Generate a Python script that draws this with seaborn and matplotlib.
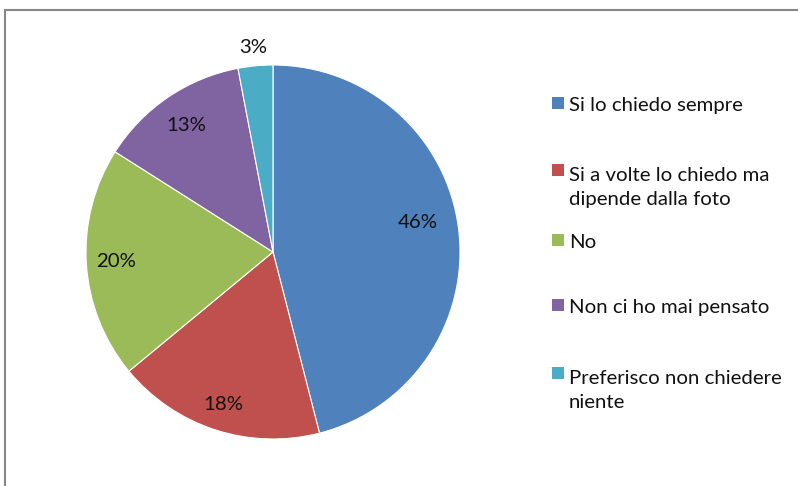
import matplotlib
matplotlib.use("Agg")
import matplotlib.pyplot as plt
import seaborn as sns
import numpy as np
from matplotlib.patches import Rectangle

sns.set_theme(style="white")
plt.rcParams['font.family'] = ['Lato', 'DejaVu Sans']

categories = ["Si lo chiedo sempre",
              "Si a volte lo chiedo ma\ndipende dalla foto",
              "No",
              "Non ci ho mai pensato",
              "Preferisco non chiedere\nniente"]
values = [46, 18, 20, 13, 3]
colors = ["#4F81BD", "#C0504D", "#9BBB59", "#8064A2", "#4BACC6"]

W, H = 798, 486
fig = plt.figure(figsize=(W / 100, H / 100), dpi=100)
fig.patch.set_facecolor("white")

# frame
frame = Rectangle((5 / W, -0.1), 1.2, (H - 10) / H + 0.1, transform=fig.transFigure,
                  fill=False, edgecolor="#868686", linewidth=1.5)
fig.add_artist(frame)

cx, cy, r = 273, H - 252, 187
ax = fig.add_axes([(cx - r) / W, (cy - r) / H, 2 * r / W, 2 * r / H])
wedges, texts, autotexts = ax.pie(values, colors=colors, startangle=90, counterclock=False,
                                  autopct=lambda p: f"{p:.0f}%", pctdistance=0.82,
                                  wedgeprops=dict(edgecolor="white", linewidth=0.8),
                                  textprops=dict(fontsize=14.7, color="#111111"))
ax.set_xlim(-1, 1)
ax.set_ylim(-1, 1)
ax.set_aspect("equal")
ax.axis("off")

def mid(wd):
    return np.deg2rad((wd.theta1 + wd.theta2) / 2)

# label placement tweaks to match the reference
autotexts[0].set_position((0.79 * np.cos(np.deg2rad(11.6)), 0.79 * np.sin(np.deg2rad(11.6))))
for i, d in [(1, 0.86), (2, 0.84), (4, 1.1)]:
    a = mid(wedges[i])
    autotexts[i].set_position((d * np.cos(a), d * np.sin(a)))

# manual legend
legend_y = [103, 170, 240, 305, 373]
line_px = 27
for lab, col, y in zip(categories, colors, legend_y):
    fig.add_artist(Rectangle((552 / W, (H - y - 6) / H), 12 / W, 12 / H,
                             transform=fig.transFigure, facecolor=col, edgecolor="none"))
    n = lab.count("\n")
    fig.text(569 / W, (H - y - 7.5 - n * line_px) / H, lab, fontsize=14.7, color="#111111",
             va="baseline", ha="left", linespacing=1.49,
             transform=fig.transFigure)

fig.savefig("out.png", dpi=100, facecolor="white")
